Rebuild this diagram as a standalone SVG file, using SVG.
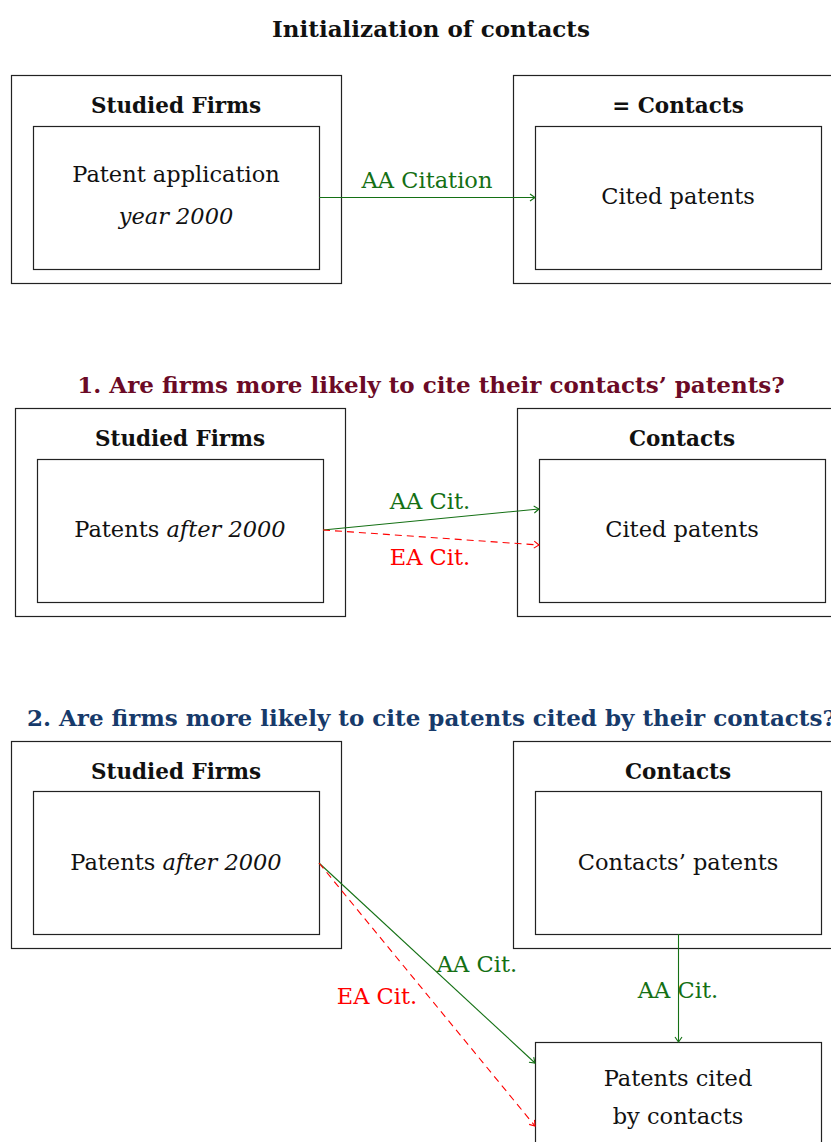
<svg xmlns="http://www.w3.org/2000/svg" width="831" height="1142" viewBox="0 0 831 1142">
<style>
text{font-family:"DejaVu Serif","Liberation Serif",serif;font-size:22.5px;fill:#111;text-anchor:middle}
.b{font-weight:bold}
.h{font-weight:bold;font-size:21.5px}
.t{font-weight:bold;font-size:23px}
.i{font-style:italic}
.box{fill:none;stroke:#222;stroke-width:1.2}
.g{fill:#147014}
.r{fill:#ff0000}
.aa{stroke:#147014;stroke-width:1.1;fill:none}
.ea{stroke:#ff0000;stroke-width:1.1;fill:none;stroke-dasharray:7,5}
</style>
<defs>
<marker id="ag" markerWidth="10" markerHeight="10" refX="8" refY="5" orient="auto" markerUnits="userSpaceOnUse"><path d="M3,1.5 L8,5 L3,8.5" fill="none" stroke="#147014" stroke-width="1.1"/></marker>
<marker id="ar" markerWidth="10" markerHeight="10" refX="8" refY="5" orient="auto" markerUnits="userSpaceOnUse"><path d="M3,1.5 L8,5 L3,8.5" fill="none" stroke="#ff0000" stroke-width="1.1"/></marker>
</defs>
<rect width="831" height="1142" fill="#fff"/>
<text class="t" x="431" y="37">Initialization of contacts</text>
<g id="s0-firms"><rect class="box" x="11.5" y="75.5" width="330" height="208"/><text class="h" x="176" y="113">Studied Firms</text></g>
<g id="s0-patent"><rect class="box" x="33.5" y="126.5" width="286" height="143"/><text x="176" y="182">Patent application</text><text class="i" x="176" y="224">year 2000</text></g>
<g id="s0-contacts"><rect class="box" x="513.5" y="75.5" width="330" height="208"/><text class="h" x="678" y="113">= Contacts</text></g>
<g id="s0-cited"><rect class="box" x="535.5" y="126.5" width="286" height="143"/><text x="678" y="204">Cited patents</text></g>
<text x="431" y="393" class="t" style="fill:#6b0a26">1. Are firms more likely to cite their contacts’ patents?</text>
<g id="s1-firms"><rect class="box" x="15.5" y="408.5" width="330" height="208"/><text class="h" x="180" y="446">Studied Firms</text></g>
<g id="s1-patents"><rect class="box" x="37.5" y="459.5" width="286" height="143"/><text x="180" y="537">Patents <tspan class="i">after 2000</tspan></text></g>
<g id="s1-contacts"><rect class="box" x="517.5" y="408.5" width="330" height="208"/><text class="h" x="682" y="446">Contacts</text></g>
<g id="s1-cited"><rect class="box" x="539.5" y="459.5" width="286" height="143"/><text x="682" y="537">Cited patents</text></g>
<text x="27" y="726" class="t" style="fill:#173a6a;text-anchor:start">2. Are firms more likely to cite patents cited by their contacts?</text>
<g id="s2-firms"><rect class="box" x="11.5" y="741.5" width="330" height="207"/><text class="h" x="176" y="779">Studied Firms</text></g>
<g id="s2-patents"><rect class="box" x="33.5" y="791.5" width="286" height="143"/><text x="176" y="870">Patents <tspan class="i">after 2000</tspan></text></g>
<g id="s2-contacts"><rect class="box" x="513.5" y="741.5" width="330" height="207"/><text class="h" x="678" y="779">Contacts</text></g>
<g id="s2-cpatents"><rect class="box" x="535.5" y="791.5" width="286" height="143"/><text x="678" y="870">Contacts’ patents</text></g>
<g id="s2-citedby"><rect class="box" x="535.5" y="1042.5" width="286" height="143"/><text x="678" y="1086">Patents cited</text><text x="678" y="1124">by contacts</text></g>
<g id="connectors">
<line class="aa" x1="319" y1="197.5" x2="535" y2="197.5" marker-end="url(#ag)"/>
<text class="g" x="427" y="188">AA Citation</text>
<line class="aa" x1="323" y1="530" x2="539" y2="509" marker-end="url(#ag)"/>
<text class="g" x="430" y="509">AA Cit.</text>
<line class="ea" x1="323" y1="530" x2="539" y2="545" marker-end="url(#ar)"/>
<text class="r" x="430" y="565">EA Cit.</text>
<line class="aa" x1="319" y1="863" x2="535" y2="1063" marker-end="url(#ag)"/>
<text class="g" x="477" y="972">AA Cit.</text>
<line class="ea" x1="319" y1="863" x2="535" y2="1126" marker-end="url(#ar)"/>
<text class="r" x="377" y="1004">EA Cit.</text>
<line class="aa" x1="678.5" y1="934" x2="678.5" y2="1042" marker-end="url(#ag)"/>
<text class="g" x="678" y="998">AA Cit.</text>
</g>
</svg>
